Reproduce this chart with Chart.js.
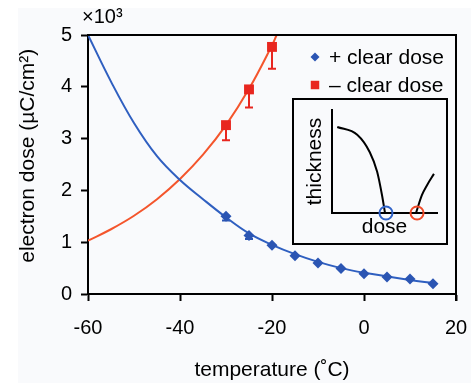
<!DOCTYPE html>
<html>
<head>
<meta charset="utf-8">
<script src="https://cdn.jsdelivr.net/npm/chart.js@4.4.1/dist/chart.umd.min.js"></script>
<style>
html,body{margin:0;padding:0;background:#fff;}
#wrap{position:relative;width:471px;height:383px;overflow:hidden;}
#bg{position:absolute;left:18px;top:8px;right:0;bottom:0;background:#f9fafc;}
#main{position:absolute;left:0;top:0;}
#inset{position:absolute;left:292px;top:98px;width:152px;height:143px;border:2px solid #000;background:#f9fafc;}
</style>
</head>
<body>
<div id="wrap">
<div id="bg"></div>
<canvas id="main" width="471" height="383"></canvas>
<div id="inset"><canvas id="insetCanvas" width="152" height="143"></canvas></div>
</div>
<script>
// measured points, temperature in C, dose in 10^3 uC/cm2
const tempPlus = [-30,-25,-20,-15,-10,-5,0,5,10,15];
const dosePlus = [1.5,1.13,0.94,0.74,0.6,0.49,0.39,0.33,0.29,0.2];
const dosePlusLow = [1.42,1.06,null,null,null,null,null,null,null,null];
const tempMinus = [-30,-25,-20];
const doseMinus = [3.26,3.95,4.77];
const doseMinusLow = [2.97,3.6,4.35];

// fitted curves
const fitPlusT = [-60,-55,-50,-45,-40,-35,-30,-25,-20,-15,-10,-5,0,5,10,15];
const fitPlusD = [5.0,4.1,3.3,2.66,2.2,1.83,1.48,1.17,0.95,0.77,0.62,0.5,0.41,0.34,0.27,0.21];
const fitMinusT = [-60,-55,-50,-45,-40,-35,-30,-25,-20,-19];
const fitMinusD = [1.03,1.25,1.51,1.83,2.22,2.69,3.26,3.96,4.8,5.0];

const legendLabels = ["+ clear dose","\u2013 clear dose"];

// inset sketch (thickness vs dose, arbitrary units)
const sketchAx = [0.5,2.4,3.6,4.3,4.76,5.05];
const sketchAy = [8.35,7.6,5.9,4.0,1.75,0];
const sketchBx = [8.0,8.57,9.05,9.71];
const sketchBy = [0,1.75,2.7,3.8];
const clearPts = [5.14,8.1];

const BLUE = "#2b55b3";
const BLUE_LINE = "#2f5fc0";
const RED = "#e8261f";
const RED_LINE = "#f4552c";
const FONT = "'Liberation Sans', Arial, sans-serif";

Chart.defaults.font.family = FONT;
Chart.defaults.font.size = 20;
Chart.defaults.color = "#000";

const pts = (xs, ys) => xs.map((x,i)=>({x:x, y:ys[i]}));

const errorBars = {
id:"errorBars",
beforeDatasetsDraw(chart){
const ctx = chart.ctx;
const xs = chart.scales.x, ys = chart.scales.y;
const sets = [[tempPlus,dosePlus,dosePlusLow,BLUE],[tempMinus,doseMinus,doseMinusLow,RED]];
ctx.save();
ctx.lineWidth = 2;
sets.forEach(([t,d,lo,c])=>{
ctx.strokeStyle = c;
t.forEach((tv,i)=>{
if(lo[i]==null) return;
const px = xs.getPixelForValue(tv);
const y1 = ys.getPixelForValue(d[i]);
const y2 = ys.getPixelForValue(lo[i]);
ctx.beginPath();
ctx.moveTo(px,y1); ctx.lineTo(px,y2);
ctx.moveTo(px-4,y2); ctx.lineTo(px+4,y2);
ctx.stroke();
});
});
ctx.restore();
}
};

const frame = {
id:"frame",
afterDraw(chart){
const {ctx, chartArea:a} = chart;
ctx.save();
ctx.strokeStyle = "#000";
ctx.lineWidth = 2;
ctx.beginPath();
ctx.moveTo(a.left-1,a.top);
ctx.lineTo(a.right,a.top);
ctx.lineTo(a.right,a.bottom+7);
ctx.stroke();
// exponent label
ctx.fillStyle = "#000";
ctx.font = "20px " + FONT;
ctx.textBaseline = "middle";
ctx.textAlign = "left";
ctx.fillText("\u00d710\u00b3", a.left-6, a.top-18);
// legend
ctx.font = "21px " + FONT;
const items = [chart.data.datasets[0], chart.data.datasets[1]];
items.forEach((ds,i)=>{
const y = a.top + 22 + i*28;
ctx.fillStyle = ds.backgroundColor;
Chart.helpers.drawPoint(ctx, {pointStyle:ds.pointStyle, radius: i==0 ? 4.5 : 6, rotation:0, borderWidth:0}, a.right-141, y);
ctx.fillStyle = "#000";
ctx.fillText(legendLabels[i], a.right-127, y+1);
});
ctx.restore();
}
};

new Chart(document.getElementById("main"),{
type:"scatter",
data:{
datasets:[{
label:legendLabels[0],
data:pts(tempPlus,dosePlus),
pointStyle:"rectRot",
pointRadius:5.5,
backgroundColor:BLUE,
borderColor:BLUE,
borderWidth:0,
showLine:false
},{
label:legendLabels[1],
data:pts(tempMinus,doseMinus),
pointStyle:"rect",
pointRadius:7,
backgroundColor:RED,
borderColor:RED,
borderWidth:0,
showLine:false
},{
data:pts(fitPlusT,fitPlusD),
showLine:true,
pointRadius:0,
borderColor:BLUE_LINE,
borderWidth:2,
tension:0.4
},{
data:pts(fitMinusT,fitMinusD),
showLine:true,
pointRadius:0,
borderColor:RED_LINE,
borderWidth:2,
tension:0.4
}]
},
options:{
responsive:false,
animation:false,
layout:{padding:{left:0,top:35,right:15,bottom:0}},
plugins:{legend:{display:false},tooltip:{enabled:false}},
scales:{
x:{
type:"linear",
min:-60,max:20,
ticks:{stepSize:20,padding:2,font:{size:20,lineHeight:2.5},callback:v=>String(v)},
grid:{display:true,drawOnChartArea:false,drawTicks:true,tickLength:7,tickWidth:2,tickColor:"#000"},
border:{display:true,color:"#000",width:2},
title:{display:true,text:"temperature (\u02daC)",font:{size:21},padding:{top:0,bottom:0}},
afterFit:s=>{s.height=89;}
},
y:{
min:0,max:5,
ticks:{stepSize:1,padding:9,callback:v=>String(v)},
grid:{display:true,drawOnChartArea:false,drawTicks:true,tickLength:7,tickWidth:2,tickColor:"#000"},
border:{display:true,color:"#000",width:2},
title:{display:true,text:"   electron dose (\u00b5C/cm\u00b2)",font:{size:21},padding:{top:16,bottom:0}},
afterFit:s=>{s.width=88;}
}
}
},
plugins:[errorBars,frame]
});

new Chart(document.getElementById("insetCanvas"),{
type:"scatter",
data:{
datasets:[{
data:[{x:clearPts[0],y:0}],
pointStyle:"circle",
pointRadius:6.5,
borderWidth:2,
borderColor:"#2f62c8",
backgroundColor:"rgba(0,0,0,0)",
clip:false
},{
data:[{x:clearPts[1],y:0}],
pointStyle:"circle",
pointRadius:6.5,
borderWidth:2,
borderColor:"#f04a28",
backgroundColor:"rgba(0,0,0,0)",
clip:false
},{
data:pts(sketchAx,sketchAy),
showLine:true,
pointRadius:0,
borderColor:"#000",
borderWidth:2,
cubicInterpolationMode:"monotone"
},{
data:pts(sketchBx,sketchBy),
showLine:true,
pointRadius:0,
borderColor:"#000",
borderWidth:2,
cubicInterpolationMode:"monotone"
}]
},
options:{
responsive:false,
animation:false,
layout:{padding:{left:0,top:10,right:9,bottom:0}},
plugins:{legend:{display:false},tooltip:{enabled:false}},
scales:{
x:{
type:"linear",min:0,max:10,
ticks:{display:false},
grid:{display:true,drawOnChartArea:false,drawTicks:false},
border:{display:true,color:"#000",width:2},
title:{display:true,text:"dose",font:{size:21},padding:{top:0,bottom:3}},
afterFit:s=>{s.height=30;}
},
y:{
min:0,max:10,
ticks:{display:false},
grid:{display:true,drawOnChartArea:false,drawTicks:false},
border:{display:true,color:"#000",width:2},
title:{display:true,text:"thickness",font:{size:21},padding:{top:9,bottom:0}},
afterFit:s=>{s.width=38;}
}
}
}
});
</script>
</body>
</html>
